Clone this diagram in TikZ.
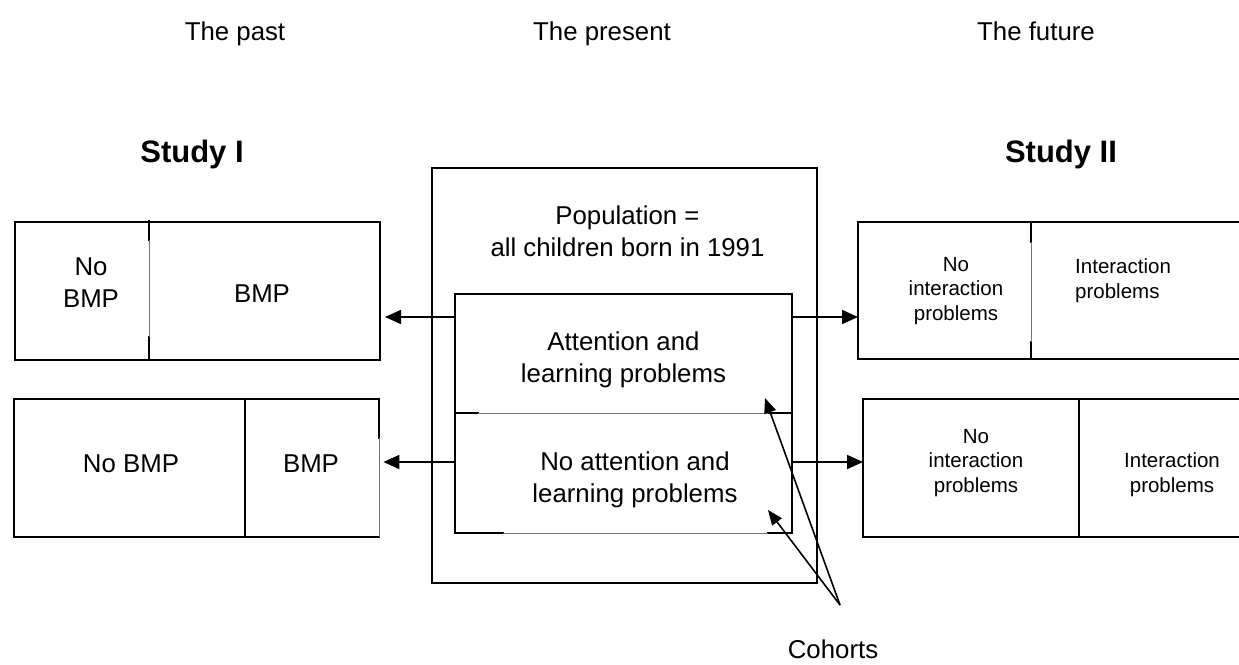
\documentclass[tikz,border=0pt]{standalone}
\usepackage{fontspec}
\setmainfont{Liberation Sans}
\usetikzlibrary{arrows.meta}
\begin{document}
\begin{tikzpicture}[x=1pt,y=-1pt,
  box/.style={draw, line width=2pt, inner sep=0, anchor=north west},
  cell/.style={inner sep=0, anchor=north west},
  edge/.style={line width=2pt, line cap=rect},
  faint/.style={line width=0.8pt, draw=black!55},
  big/.style={font=\fontsize{25.8}{31.5}\selectfont, align=center, anchor=base, inner sep=0},
  small/.style={font=\fontsize{20.5}{24.5}\selectfont, align=center, anchor=base, inner sep=0},
  head/.style={font=\bfseries\fontsize{31}{36}\selectfont, anchor=base, inner sep=0},
  arr/.style={-{Triangle[length=16pt,width=14pt]}, line width=1.8pt},
  carr/.style={-{Triangle[length=15pt,width=12pt]}, line width=1.6pt}]
\useasboundingbox (0,0) rectangle (1239,664);

% headers
\node[big] (past) at (235,40) {The past};
\node[big] (present) at (602,40) {The present};
\node[big] (future) at (1036,40) {The future};
\node[head] (s1) at (192,162) {Study I};
\node[head] (s2) at (1061,162) {Study II};

% left top box
\node[box, minimum width=365pt, minimum height=138pt] (l1) at (14,221) {};
\draw[edge] (149,221) -- (149,240) (149,337) -- (149,359);
\draw[faint] (149,240) -- (149,337);
\node[big] (l1a) at (91,307) {No\\BMP};
\node[big] (l1b) at (262,302) {BMP};

% left bottom box
\node[cell, minimum width=365pt, minimum height=138pt] (l2) at (14,399) {};
\draw[edge] (379,438) -- (379,399) -- (14,399) -- (14,537) -- (379,537);
\draw[faint] (379,438) -- (379,537);
\draw[edge] (245,399) -- (245,537);
\node[big] (l2a) at (131,472) {No BMP};
\node[big] (l2b) at (311,472) {BMP};

% center
\node[box, minimum width=385pt, minimum height=415pt] (pop) at (431,167) {};
\node[big] (popt) at (627.5,256) {Population =\\all children born in 1991};
\node[cell, minimum width=337pt, minimum height=119pt] (att) at (455,294) {};
\node[cell, minimum width=337pt, minimum height=120pt] (noatt) at (455,413) {};
\draw[edge] (455,533) -- (455,294) -- (792,294) -- (792,533);
\draw[edge] (455,413) -- (478,413) (768,413) -- (792,413);
\draw[faint] (478,413) -- (768,413);
\draw[edge] (455,533) -- (503,533) (768,533) -- (792,533);
\draw[faint] (503,533) -- (768,533);
\node[big] (attt) at (623.5,382) {Attention and\\learning problems};
\node[big] (noattt) at (635,502) {No attention and\\learning problems};

% right top box
\node[cell, minimum width=400pt, minimum height=137pt] (r1) at (858,222) {};
\draw[edge] (1260,222) -- (858,222) -- (858,359) -- (1260,359);
\draw[edge] (1031,222) -- (1031,242) (1031,342) -- (1031,359);
\draw[faint] (1031,242) -- (1031,342);
\node[small] (r1a) at (956,320) {No\\interaction\\problems};
\node[small, align=left, anchor=base west] (r1b) at (1075,298) {Interaction\\problems};

% right bottom box
\node[cell, minimum width=400pt, minimum height=138pt] (r2) at (863,399) {};
\draw[edge] (1260,399) -- (863,399) -- (863,537) -- (1260,537);
\draw[edge] (1079,399) -- (1079,537);
\node[small] (r2a) at (976,492) {No\\interaction\\problems};
\node[small] (r2b) at (1172,492) {Interaction\\problems};

% arrows
\coordinate (ya) at (0,317);
\coordinate (yb) at (0,462);
\draw[arr] (att.west |- ya) -- ([xshift=4pt]l1.east |- ya);
\draw[arr] (att.east |- ya) -- (r1.west |- ya);
\draw[arr] (noatt.west |- yb) -- ([xshift=4pt]l2.east |- yb);
\draw[arr] (noatt.east |- yb) -- (r2.west |- yb);

% cohorts
\node[big] (coh) at (833,658) {Cohorts};
\coordinate (apex) at (840,605);
\coordinate (t1) at (765,398);
\coordinate (t2) at (768,510);
\draw[carr] (apex) -- (t1);
\draw[carr] (apex) -- (t2);
\end{tikzpicture}
\end{document}
